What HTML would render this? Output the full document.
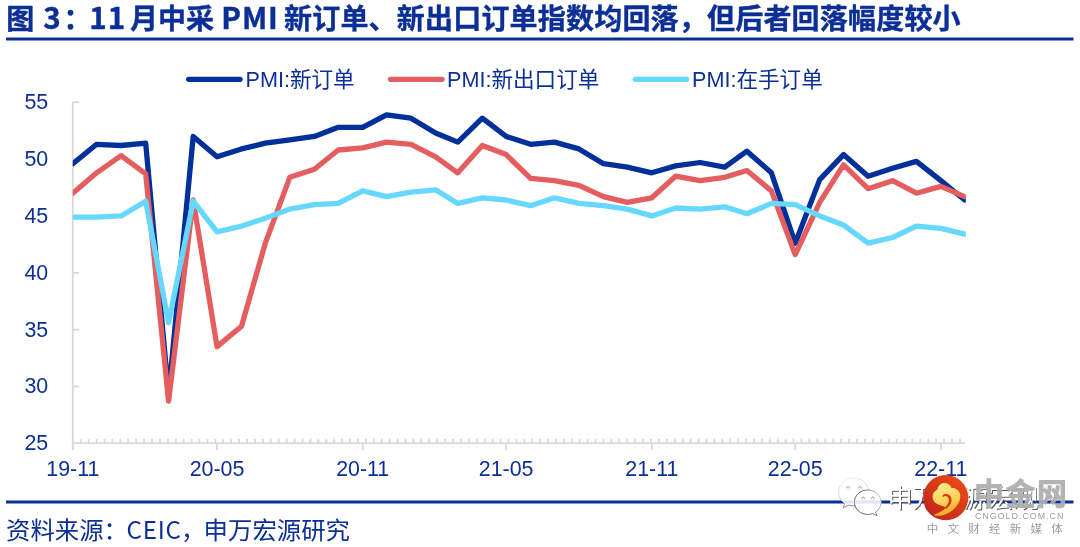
<!DOCTYPE html>
<html lang="zh-CN"><head><meta charset="utf-8"><title>图 3</title>
<style>
html,body{margin:0;padding:0;background:#fff;}
body{width:1080px;height:547px;overflow:hidden;position:relative;font-family:"Liberation Sans","Noto Sans CJK SC",sans-serif;}
svg{position:absolute;left:0;top:0;display:block}
.t{font-family:"Liberation Sans","Noto Sans CJK SC",sans-serif;fill:#0b2f96;}
.title{font-family:"Noto Sans CJK SC","Liberation Sans",sans-serif;font-weight:700;font-size:28px;fill:#0b2f96;}
.ax{font-size:21.4px;}
.lg{font-size:21.6px;}
.src{font-family:"Noto Sans CJK SC","Liberation Sans",sans-serif;font-size:24.4px;fill:#0b2f96;}
</style></head><body>
<svg width="1080" height="547" viewBox="0 0 1080 547">
<rect width="1080" height="547" fill="#fff"/>
<text class="title" y="28.8" stroke="#0b2f96" stroke-width="0.4" stroke-linejoin="round"><tspan x="6.3">图 </tspan><tspan x="43.2" font-size="29.6px">3</tspan><tspan x="63.4">： </tspan><tspan x="89.3" letter-spacing="0.9" font-size="29.6px">11 </tspan><tspan x="130">月中采 </tspan><tspan x="221.3" letter-spacing="0.9" font-size="29.6px">PMI </tspan><tspan x="284" letter-spacing="0.2">新订单、新出口订单指数均回落，但后者回落幅度较小</tspan></text>
<rect x="6" y="37.5" width="1067.5" height="3" fill="#0b2f96"/>

<g stroke="#d9d9d9" stroke-width="1.8" fill="none">
<path d="M72.8,102.3 V449.2"/>
<path d="M72.8,443.2 H965.0"/>
<path d="M72.8,443.2 h6.5"/>
<path d="M72.8,386.4 h6.5"/>
<path d="M72.8,329.6 h6.5"/>
<path d="M72.8,272.8 h6.5"/>
<path d="M72.8,215.9 h6.5"/>
<path d="M72.8,159.1 h6.5"/>
<path d="M72.8,102.3 h6.5"/>
<path d="M72.8,443.2 v-4.5"/>
<path d="M80.7,443.2 v-4.5"/>
<path d="M88.6,443.2 v-4.5"/>
<path d="M96.6,443.2 v-4.5"/>
<path d="M104.5,443.2 v-4.5"/>
<path d="M112.4,443.2 v-4.5"/>
<path d="M120.3,443.2 v-4.5"/>
<path d="M128.2,443.2 v-4.5"/>
<path d="M136.2,443.2 v-4.5"/>
<path d="M144.1,443.2 v-4.5"/>
<path d="M152.0,443.2 v-4.5"/>
<path d="M159.9,443.2 v-4.5"/>
<path d="M167.9,443.2 v-4.5"/>
<path d="M175.8,443.2 v-4.5"/>
<path d="M183.7,443.2 v-4.5"/>
<path d="M191.6,443.2 v-4.5"/>
<path d="M199.5,443.2 v-4.5"/>
<path d="M207.5,443.2 v-4.5"/>
<path d="M215.4,443.2 v-4.5"/>
<path d="M223.3,443.2 v-4.5"/>
<path d="M231.2,443.2 v-4.5"/>
<path d="M239.1,443.2 v-4.5"/>
<path d="M247.1,443.2 v-4.5"/>
<path d="M255.0,443.2 v-4.5"/>
<path d="M262.9,443.2 v-4.5"/>
<path d="M270.8,443.2 v-4.5"/>
<path d="M278.7,443.2 v-4.5"/>
<path d="M286.7,443.2 v-4.5"/>
<path d="M294.6,443.2 v-4.5"/>
<path d="M302.5,443.2 v-4.5"/>
<path d="M310.4,443.2 v-4.5"/>
<path d="M318.3,443.2 v-4.5"/>
<path d="M326.3,443.2 v-4.5"/>
<path d="M334.2,443.2 v-4.5"/>
<path d="M342.1,443.2 v-4.5"/>
<path d="M350.0,443.2 v-4.5"/>
<path d="M358.0,443.2 v-4.5"/>
<path d="M365.9,443.2 v-4.5"/>
<path d="M373.8,443.2 v-4.5"/>
<path d="M381.7,443.2 v-4.5"/>
<path d="M389.6,443.2 v-4.5"/>
<path d="M397.6,443.2 v-4.5"/>
<path d="M405.5,443.2 v-4.5"/>
<path d="M413.4,443.2 v-4.5"/>
<path d="M421.3,443.2 v-4.5"/>
<path d="M429.2,443.2 v-4.5"/>
<path d="M437.2,443.2 v-4.5"/>
<path d="M445.1,443.2 v-4.5"/>
<path d="M453.0,443.2 v-4.5"/>
<path d="M460.9,443.2 v-4.5"/>
<path d="M468.8,443.2 v-4.5"/>
<path d="M476.8,443.2 v-4.5"/>
<path d="M484.7,443.2 v-4.5"/>
<path d="M492.6,443.2 v-4.5"/>
<path d="M500.5,443.2 v-4.5"/>
<path d="M508.5,443.2 v-4.5"/>
<path d="M516.4,443.2 v-4.5"/>
<path d="M524.3,443.2 v-4.5"/>
<path d="M532.2,443.2 v-4.5"/>
<path d="M540.1,443.2 v-4.5"/>
<path d="M548.1,443.2 v-4.5"/>
<path d="M556.0,443.2 v-4.5"/>
<path d="M563.9,443.2 v-4.5"/>
<path d="M571.8,443.2 v-4.5"/>
<path d="M579.7,443.2 v-4.5"/>
<path d="M587.7,443.2 v-4.5"/>
<path d="M595.6,443.2 v-4.5"/>
<path d="M603.5,443.2 v-4.5"/>
<path d="M611.4,443.2 v-4.5"/>
<path d="M619.3,443.2 v-4.5"/>
<path d="M627.3,443.2 v-4.5"/>
<path d="M635.2,443.2 v-4.5"/>
<path d="M643.1,443.2 v-4.5"/>
<path d="M651.0,443.2 v-4.5"/>
<path d="M659.0,443.2 v-4.5"/>
<path d="M666.9,443.2 v-4.5"/>
<path d="M674.8,443.2 v-4.5"/>
<path d="M682.7,443.2 v-4.5"/>
<path d="M690.6,443.2 v-4.5"/>
<path d="M698.6,443.2 v-4.5"/>
<path d="M706.5,443.2 v-4.5"/>
<path d="M714.4,443.2 v-4.5"/>
<path d="M722.3,443.2 v-4.5"/>
<path d="M730.2,443.2 v-4.5"/>
<path d="M738.2,443.2 v-4.5"/>
<path d="M746.1,443.2 v-4.5"/>
<path d="M754.0,443.2 v-4.5"/>
<path d="M761.9,443.2 v-4.5"/>
<path d="M769.8,443.2 v-4.5"/>
<path d="M777.8,443.2 v-4.5"/>
<path d="M785.7,443.2 v-4.5"/>
<path d="M793.6,443.2 v-4.5"/>
<path d="M801.5,443.2 v-4.5"/>
<path d="M809.4,443.2 v-4.5"/>
<path d="M817.4,443.2 v-4.5"/>
<path d="M825.3,443.2 v-4.5"/>
<path d="M833.2,443.2 v-4.5"/>
<path d="M841.1,443.2 v-4.5"/>
<path d="M849.1,443.2 v-4.5"/>
<path d="M857.0,443.2 v-4.5"/>
<path d="M864.9,443.2 v-4.5"/>
<path d="M872.8,443.2 v-4.5"/>
<path d="M880.7,443.2 v-4.5"/>
<path d="M888.7,443.2 v-4.5"/>
<path d="M896.6,443.2 v-4.5"/>
<path d="M904.5,443.2 v-4.5"/>
<path d="M912.4,443.2 v-4.5"/>
<path d="M920.3,443.2 v-4.5"/>
<path d="M928.3,443.2 v-4.5"/>
<path d="M936.2,443.2 v-4.5"/>
<path d="M944.1,443.2 v-4.5"/>
<path d="M952.0,443.2 v-4.5"/>
<path d="M959.9,443.2 v-4.5"/>
<path d="M72.8,443.2 v7"/>
<path d="M217.0,443.2 v7"/>
<path d="M362.7,443.2 v7"/>
<path d="M506.1,443.2 v7"/>
<path d="M651.8,443.2 v7"/>
<path d="M795.2,443.2 v7"/>
<path d="M940.9,443.2 v7"/>
</g>
<text class="t ax" x="48.2" y="450.2" text-anchor="end">25</text>
<text class="t ax" x="48.2" y="393.4" text-anchor="end">30</text>
<text class="t ax" x="48.2" y="336.6" text-anchor="end">35</text>
<text class="t ax" x="48.2" y="279.8" text-anchor="end">40</text>
<text class="t ax" x="48.2" y="222.9" text-anchor="end">45</text>
<text class="t ax" x="48.2" y="166.1" text-anchor="end">50</text>
<text class="t ax" x="48.2" y="109.3" text-anchor="end">55</text>
<text class="t ax" x="72.8" y="476" text-anchor="middle">19-11</text>
<text class="t ax" x="217.0" y="476" text-anchor="middle">20-05</text>
<text class="t ax" x="362.7" y="476" text-anchor="middle">20-11</text>
<text class="t ax" x="506.1" y="476" text-anchor="middle">21-05</text>
<text class="t ax" x="651.8" y="476" text-anchor="middle">21-11</text>
<text class="t ax" x="795.2" y="476" text-anchor="middle">22-05</text>
<text class="t ax" x="940.9" y="476" text-anchor="middle">22-11</text>
<clipPath id="plot"><rect x="72.8" y="60" width="893.0" height="420"/></clipPath>
<g fill="none" stroke-linejoin="round" stroke-linecap="round" stroke-width="5.3" clip-path="url(#plot)">
<path stroke="#01309a" d="M72.8,163.7 L96.6,144.3 L121.1,145.5 L145.7,143.2 L168.6,394.3 L193.2,136.4 L217.0,156.8 L241.5,148.9 L265.3,143.2 L289.8,139.8 L314.4,136.4 L338.2,127.3 L362.7,127.3 L386.5,114.8 L411.0,118.2 L435.6,133.0 L457.8,142.1 L482.3,118.2 L506.1,136.4 L530.6,144.3 L554.4,142.1 L578.9,148.9 L603.5,163.7 L627.3,167.1 L651.8,172.8 L675.6,165.9 L700.1,162.5 L724.7,167.1 L746.9,151.2 L771.4,172.8 L795.2,243.2 L819.7,179.6 L843.5,154.6 L868.1,176.2 L892.6,168.2 L916.4,161.4 L940.9,180.7 L964.7,200.0"/>
<path stroke="#e55e5f" d="M72.8,193.2 L96.6,172.8 L121.1,155.7 L145.7,173.9 L168.6,401.2 L193.2,200.0 L217.0,346.6 L241.5,326.2 L265.3,243.2 L289.8,177.3 L314.4,169.3 L338.2,150.0 L362.7,147.8 L386.5,142.1 L411.0,144.3 L435.6,156.8 L457.8,172.8 L482.3,145.5 L506.1,154.6 L530.6,178.4 L554.4,180.7 L578.9,185.3 L603.5,196.6 L627.3,202.3 L651.8,197.8 L675.6,176.2 L700.1,180.7 L724.7,177.3 L746.9,170.5 L771.4,190.9 L795.2,254.6 L819.7,202.3 L843.5,164.8 L868.1,188.7 L892.6,180.7 L916.4,193.2 L940.9,186.4 L964.7,196.6"/>
<path stroke="#66d7fd" d="M72.8,217.1 L96.6,217.1 L121.1,215.9 L145.7,201.2 L168.6,322.7 L193.2,201.2 L217.0,231.8 L241.5,226.2 L265.3,218.2 L289.8,209.1 L314.4,204.6 L338.2,203.4 L362.7,190.9 L386.5,196.6 L411.0,192.1 L435.6,189.8 L457.8,203.4 L482.3,197.8 L506.1,200.0 L530.6,205.7 L554.4,197.8 L578.9,203.4 L603.5,205.7 L627.3,209.1 L651.8,215.9 L675.6,208.0 L700.1,209.1 L724.7,206.8 L746.9,213.7 L771.4,203.4 L795.2,204.6 L819.7,215.9 L843.5,225.0 L868.1,243.2 L892.6,237.5 L916.4,226.2 L940.9,228.4 L964.7,234.1"/>
</g>
<g stroke-width="5.3" stroke-linecap="round">
<path stroke="#01309a" d="M188.7,79.3 H240"/>
<path stroke="#e55e5f" d="M390.5,79.3 H442"/>
<path stroke="#66d7fd" d="M635.3,79.3 H686.6"/>
</g>
<text class="t lg" x="245.5" y="87.3">PMI:新订单</text>
<text class="t lg" x="447" y="87.3">PMI:新出口订单</text>
<text class="t lg" x="692" y="87.3">PMI:在手订单</text>

<rect x="6" y="500.5" width="1067.5" height="3" fill="#0b2f96"/>

<defs>
<linearGradient id="wcb" x1="0.3" y1="0" x2="0.6" y2="1"><stop offset="0" stop-color="#efefef"/><stop offset="0.5" stop-color="#d2d2d2"/><stop offset="1" stop-color="#6a6a6a"/></linearGradient>
<linearGradient id="wcm" x1="0" y1="0.6" x2="1" y2="0.3"><stop offset="0" stop-color="#5a5a5a"/><stop offset="0.6" stop-color="#7a7a7a"/><stop offset="1" stop-color="#c8c8c8"/></linearGradient>
<linearGradient id="red" x1="0.85" y1="0.1" x2="0.15" y2="0.9"><stop offset="0" stop-color="#ea4a14"/><stop offset="1" stop-color="#c2251d"/></linearGradient>
<linearGradient id="gold" x1="0.3" y1="0" x2="0.6" y2="1"><stop offset="0" stop-color="#ffec8e"/><stop offset="0.55" stop-color="#fcd257"/><stop offset="1" stop-color="#f4a01c"/></linearGradient>
</defs>
<g id="wechat">
 <clipPath id="cb"><path d="M853.7,478.1 c8.4,0 15.1,6.2 15.1,13.9 c0,7.7 -6.7,13.9 -15.1,13.9 c-1.8,0 -3.5,-0.3 -5.1,-0.8 l-5.2,2.6 l1.4,-4.4 c-3.8,-2.5 -6.2,-6.6 -6.2,-11.3 c0,-7.7 6.7,-13.9 15.1,-13.9z"/></clipPath>
 <clipPath id="cs"><path d="M867.7,490 c7.4,0 13.3,5.5 13.3,12.3 c0,4 -2.1,7.6 -5.3,9.8 l1.2,3.6 l-4.3,-2.1 c-1.5,0.5 -3.2,0.8 -4.9,0.8 c-7.4,0 -13.3,-5.5 -13.3,-12.3 c0,-6.8 5.9,-12.1 13.3,-12.1z"/></clipPath>
 <path d="M853.7,478.1 c8.4,0 15.1,6.2 15.1,13.9 c0,7.7 -6.7,13.9 -15.1,13.9 c-1.8,0 -3.5,-0.3 -5.1,-0.8 l-5.2,2.6 l1.4,-4.4 c-3.8,-2.5 -6.2,-6.6 -6.2,-11.3 c0,-7.7 6.7,-13.9 15.1,-13.9z" fill="#fff" stroke="url(#wcb)" stroke-width="0.9"/>
 <rect x="836" y="500.5" width="36" height="3" fill="#dfe5f3" clip-path="url(#cb)"/>
 <circle cx="848.2" cy="488.3" r="1.7" fill="#fff" stroke="#dedede" stroke-width="0.6"/><circle cx="860.1" cy="488.3" r="1.7" fill="#fff" stroke="#dedede" stroke-width="0.6"/>
 <path d="M846.5,488.3 a1.7,1.7 0 0 1 3.4,0" fill="none" stroke="#9a9a9a" stroke-width="0.8"/>
 <path d="M858.4,488.3 a1.7,1.7 0 0 1 3.4,0" fill="none" stroke="#9a9a9a" stroke-width="0.8"/>
 <path d="M867.7,490 c7.4,0 13.3,5.5 13.3,12.3 c0,4 -2.1,7.6 -5.3,9.8 l1.2,3.6 l-4.3,-2.1 c-1.5,0.5 -3.2,0.8 -4.9,0.8 c-7.4,0 -13.3,-5.5 -13.3,-12.3 c0,-6.8 5.9,-12.1 13.3,-12.1z" fill="#fff" stroke="url(#wcm)" stroke-width="1"/>
 <rect x="852" y="500.5" width="32" height="3" fill="#dfe5f3" clip-path="url(#cs)"/>
 <circle cx="863.2" cy="498.6" r="1.5" fill="#fff" stroke="#d8d8d8" stroke-width="0.6"/><circle cx="872.8" cy="498.6" r="1.5" fill="#fff" stroke="#d8d8d8" stroke-width="0.6"/>
 <path d="M861.7,498.6 a1.5,1.5 0 0 1 3,0" fill="none" stroke="#8a8a8a" stroke-width="0.8"/>
 <path d="M871.3,498.6 a1.5,1.5 0 0 1 3,0" fill="none" stroke="#8a8a8a" stroke-width="0.8"/>
</g>
<g font-family="'Noto Sans CJK SC','Liberation Sans',sans-serif" font-weight="400" font-size="25.2px">
 <text x="888.4" y="508.1" fill="#555555">申万宏源宏观</text>
 <text x="887.5" y="507.2" fill="#ffffff">申万宏源宏观</text>
</g>
<g id="logo">
 <circle cx="945.7" cy="497.7" r="22.6" fill="url(#red)"/>
 <g transform="translate(918.5,470.4) scale(0.1006)">
  <path fill="url(#gold)" d="M150,447 C175,425 215,420 245,395 L275,372 C250,352 215,350 185,335 C155,318 135,285 140,252 C145,225 165,200 190,188 C192,160 215,130 250,125 C285,120 315,140 330,175 C365,170 400,195 413,235 C425,290 395,345 345,390 C295,432 215,465 150,447 Z"/>
  <path fill="#d8381a" d="M236,252 C258,226 306,230 323,266 C340,305 316,352 276,380 L262,370 C292,342 310,306 298,277 C288,252 262,247 246,264 Z"/>
 </g>
 <text x="973.8" y="505.3" font-family="'Noto Sans CJK SC','Liberation Sans',sans-serif" font-weight="900" font-size="30.4px" letter-spacing="1.1" fill="#adadad" fill-opacity="0.93">中金网</text>
 <text x="975" y="518.7" font-family="'Liberation Sans',sans-serif" font-size="8.8px" letter-spacing="1.05" fill="#9a9a9a">CNGOLD.COM.CN</text>
 <text x="926.8" y="533" font-family="'Noto Sans CJK SC','Liberation Sans',sans-serif" font-size="11.5px" letter-spacing="9.25" fill="#9a9a9a">中文财经新媒体</text>
</g>

<text class="src" y="538.5"><tspan x="6">资料来源：</tspan><tspan x="126.6" letter-spacing="0.7" font-size="24.2px">CEIC</tspan><tspan x="181">，</tspan><tspan x="203.6">申万宏源研究</tspan></text>
</svg></body></html>
